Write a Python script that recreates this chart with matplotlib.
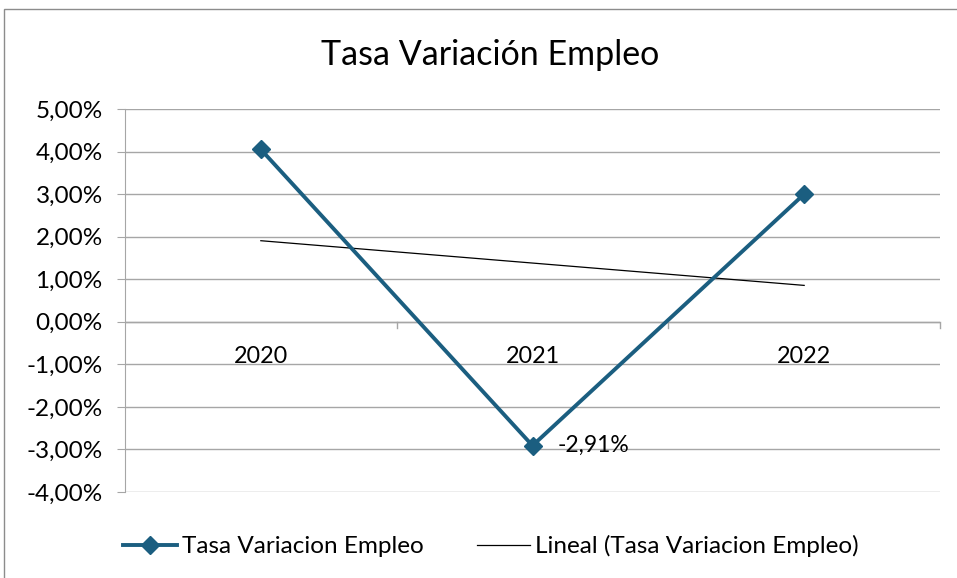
import matplotlib.pyplot as plt
import matplotlib.patches as patches
from matplotlib.ticker import FuncFormatter, MultipleLocator
import numpy as np

# values (percent)
years = ['2020', '2021', '2022']
tasa = [4.05, -2.91, 3.00]

plt.rcParams['font.family'] = ['Lato', 'DejaVu Sans']

BLUE = '#1B5E80'
GRID = '#A6A6A6'

fig = plt.figure(figsize=(9.57, 5.78), dpi=100)
W, H = 957, 578
ax = fig.add_axes([125 / W, 1 - 492 / H, 815 / W, 383 / H])

x = np.arange(len(years)) + 0.5
# linear trend like the Excel one
coef = np.polyfit(np.arange(len(years)), tasa, 1)
trend = np.polyval(coef, np.arange(len(years)))

l1, = ax.plot(x, tasa, color=BLUE, lw=2.8, marker='D', ms=9,
              label='Tasa Variacion Empleo', zorder=4)
l2, = ax.plot(x, trend, color='black', lw=0.9,
              label='Lineal (Tasa Variacion Empleo)', zorder=3)

ax.annotate('-2,91%', (x[1], tasa[1]), xytext=(18, 0), textcoords='offset points',
            va='center', ha='left', fontsize=16.5)

ax.set_xlim(0, 3)
ax.set_ylim(-4, 5)
ax.yaxis.set_major_locator(MultipleLocator(1))
ax.yaxis.set_major_formatter(FuncFormatter(lambda v, p: f'{v:.2f}%'.replace('.', ',')))
ax.grid(axis='y', color=GRID, lw=1)
ax.set_axisbelow(True)

for s in ['top', 'right', 'bottom']:
    ax.spines[s].set_visible(False)
ax.spines['left'].set_color(GRID)
ax.tick_params(axis='y', length=6, color=GRID, labelsize=17.5, pad=10)

# x axis at zero, category labels just below it
ax.axhline(0, color=GRID, lw=1, zorder=1)
ax.set_xticks([])
for xb in [1, 2, 3]:
    ax.plot([xb, xb], [0, -0.15], color=GRID, lw=1, zorder=1, clip_on=False)
for xi, yr in zip(x, years):
    ax.text(xi, -0.82, yr, ha='center', va='center', fontsize=16.8)

fig.text(490 / W, 1 - 55 / H, 'Tasa Variación Empleo', ha='center', va='center', fontsize=24.5)

fig.legend(handles=[l1, l2], loc='center', bbox_to_anchor=(491 / W, 1 - 546 / H),
           ncol=2, frameon=False, fontsize=17.5, handlelength=2.2, columnspacing=2.2,
           handletextpad=0.2)

fig.patches.append(patches.Rectangle((4 / W, -0.01), 1, 1 - 9 / H + 0.01, transform=fig.transFigure,
                                     fill=False, edgecolor='#8C8C8C', lw=1))

fig.savefig('out.png', dpi=100)
